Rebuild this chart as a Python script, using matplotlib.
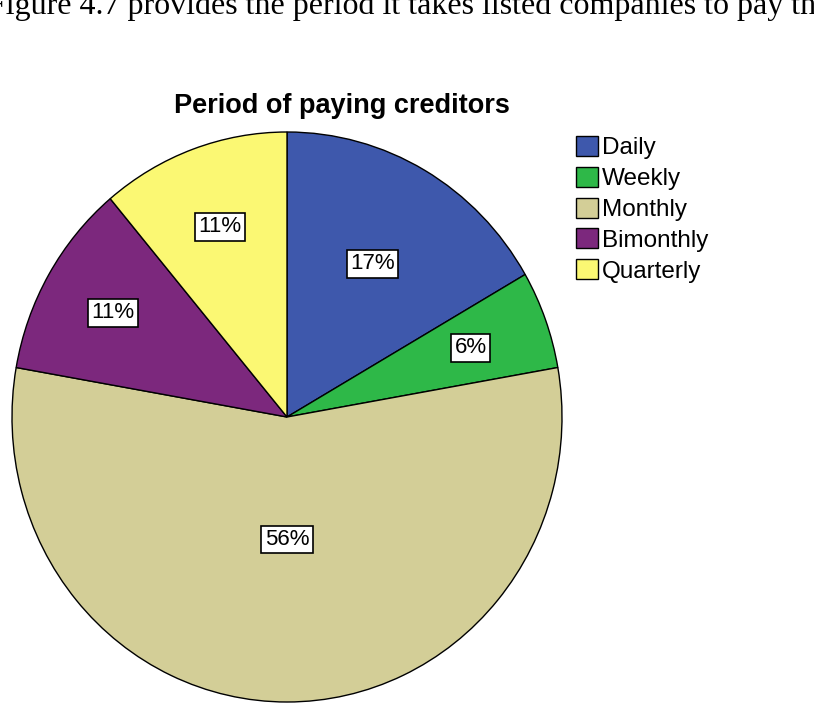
import matplotlib
matplotlib.use('Agg')
import matplotlib.pyplot as plt
import numpy as np

# counts behind the SPSS percentages (n = 18)
categories = ['Daily', 'Weekly', 'Monthly', 'Bimonthly', 'Quarterly']
counts = [3, 1, 10, 2, 2]
colors = ['#3E58AC', '#2EB848', '#D3CE97', '#7C287D', '#FBF873']
title = 'Period of paying creditors'
page_text = 'Figure 4.7 provides the period it takes listed companies to pay their creditors.'

W, H = 814, 703
fig = plt.figure(figsize=[W / 100, H / 100], dpi=100)

# pie is slightly squashed horizontally in the scan
cx, cy, rx, ry = 287, 417, 275, 285
ax = fig.add_axes([(cx - rx) / W, (H - cy - ry) / H, 2 * rx / W, 2 * ry / H])

wedges, texts = ax.pie(counts, colors=colors, startangle=90, counterclock=False,
                       wedgeprops=dict(edgecolor='black', linewidth=1.0))
ax.set_aspect('auto')
ax.set_xlim(-1, 1)
ax.set_ylim(-1, 1)
ax.axis('off')

# SPSS-style boxed percentage labels
label_dist = [0.62, 0.71, 0.43, 0.73, 0.71]
total = float(sum(counts))
for w, c, d in zip(wedges, counts, label_dist):
    mid = np.deg2rad((w.theta1 + w.theta2) / 2.0)
    ax.text(d * np.cos(mid), d * np.sin(mid), '%d%%' % round(100 * c / total),
            ha='center', va='center', fontsize=16, family='Liberation Sans',
            bbox=dict(boxstyle='square,pad=0.15', facecolor='white',
                      edgecolor='black', linewidth=1.2))

fig.text(342 / W, 1 - 106 / H, title, ha='center', va='center',
         fontsize=19.5, fontweight='bold', family='Liberation Sans')

fig.legend(wedges, categories, loc='upper left', bbox_to_anchor=(576 / W, 1 - 136 / H),
           frameon=False, prop=dict(family='Liberation Sans', size=17.5),
           handlelength=0.9, handleheight=0.9, handletextpad=0.15,
           labelspacing=0.3, borderpad=0, borderaxespad=0)

# clipped line of document text above the chart
fig.text(-12 / W, 1 - 14 / H, page_text, ha='left', va='baseline',
         fontsize=23, family='Liberation Serif')

fig.savefig('out.png', dpi=100)
